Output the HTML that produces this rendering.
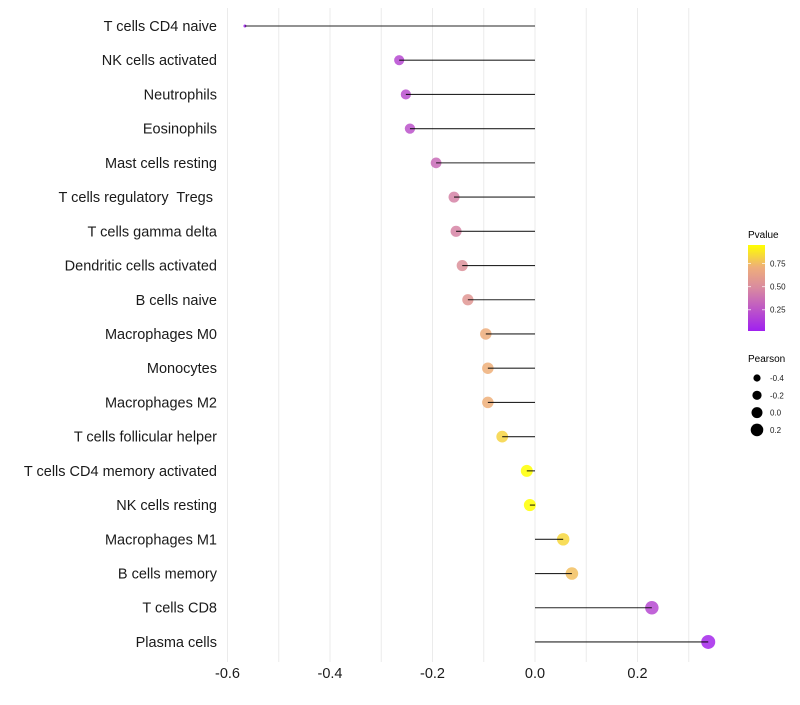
<!DOCTYPE html>
<html><head><meta charset="utf-8"><style>
body{margin:0;background:#fff;font-family:"Liberation Sans",sans-serif}
svg text{font-family:"Liberation Sans",sans-serif}
</style></head><body>
<svg id="chart" width="800" height="700" xmlns="http://www.w3.org/2000/svg">
<defs>
<linearGradient id="pgrad" x1="0" y1="1" x2="0" y2="0">
<stop offset="0" stop-color="#a020f0"/><stop offset="0.5" stop-color="#d98aa0"/><stop offset="0.74" stop-color="#eeae7a"/><stop offset="1" stop-color="#ffff00"/>
</linearGradient>
</defs>
<g id="grid"></g>
<g id="bars"></g>
<g id="ylabels"></g>
<g id="xlabels"></g>
<g>
<text x="748" y="238" font-size="10">Pvalue</text>
<rect x="748" y="245" width="17" height="86" fill="url(#pgrad)"/>
<g id="cbticks"></g>
</g>
<g id="sizeleg">
<text x="748" y="362" font-size="10">Pearson</text>
</g>
</svg>
<script>
const categories=["T cells CD4 naive","NK cells activated","Neutrophils","Eosinophils","Mast cells resting","T cells regulatory  Tregs ","T cells gamma delta","Dendritic cells activated","B cells naive","Macrophages M0","Monocytes","Macrophages M2","T cells follicular helper","T cells CD4 memory activated","NK cells resting","Macrophages M1","B cells memory","T cells CD8","Plasma cells"];
const pearson=[-0.566,-0.265,-0.252,-0.244,-0.193,-0.158,-0.154,-0.142,-0.131,-0.096,-0.092,-0.092,-0.064,-0.016,-0.010,0.055,0.072,0.228,0.338];
const pvalues=[0.02,0.20,0.22,0.24,0.35,0.45,0.46,0.52,0.56,0.70,0.71,0.71,0.82,0.95,0.97,0.83,0.76,0.20,0.05];
const xTicks=[-0.6,-0.4,-0.2,0.0,0.2];
const xTickLabels=["-0.6","-0.4","-0.2","0.0","0.2"];
const cbTicks=[0.25,0.50,0.75];
const sizeLegendValues=[-0.4,-0.2,0.0,0.2];
const sizeLegendLabels=["-0.4","-0.2","0.0","0.2"];

const NS="http://www.w3.org/2000/svg";
const x=v=>535+v*512.5;
const y=i=>26+i*34.22;
const r=v=>1.5+5.5*Math.pow(Math.max(0,(v+0.566)/0.904),0.4);
const cbY=p=>331-(p-0.02)/0.93*86;
const stops=[[0,[160,32,240]],[0.5,[217,138,160]],[0.74,[238,174,122]],[1,[255,255,0]]];
function col(p){const t=Math.max(0,Math.min(1,(p-0.02)/0.93));
 for(let k=1;k<stops.length;k++){if(t<=stops[k][0]){const a=stops[k-1],b=stops[k];const s=(t-a[0])/(b[0]-a[0]);
  return `rgb(${a[1].map((v,j)=>Math.round(v+(b[1][j]-v)*s)).join(",")})`}}
 return 'rgb(255,255,0)'}
function mk(tag,attrs,parent){const e=document.createElementNS(NS,tag);for(const k in attrs)e.setAttribute(k,attrs[k]);parent.appendChild(e);return e}
const grid=document.getElementById('grid');
for(let v=-0.7;v<=0.36;v+=0.1){
 const gx=x(Math.round(v*10)/10);if(gx<212)continue;
 const l=mk('line',{x1:gx,x2:gx,y1:8,y2:662,stroke:'#ebebeb','stroke-width':1},grid);
 
 
}
const bars=document.getElementById('bars'),yl=document.getElementById('ylabels'),xl=document.getElementById('xlabels');
categories.forEach((c,i)=>{
 const cy=y(i);
 const d=mk('circle',{cx:x(pearson[i]),cy:cy,r:r(pearson[i]),fill:col(pvalues[i]),'fill-opacity':0.85},bars);
 
 
 const l=mk('line',{x1:x(0),x2:x(pearson[i]),y1:cy,y2:cy,stroke:'#000','stroke-width':1.1,'stroke-opacity':0.85},bars);
 
 
 const t=mk('text',{x:217,y:cy+5,'font-size':14.5,'text-anchor':'end',fill:'#1a1a1a'},yl);
 t.textContent=c;t.setAttribute('xml:space','preserve');t.style.whiteSpace='pre';
 
 
});
xTicks.forEach((v,i)=>{
 const t=mk('text',{x:x(v),y:678,'font-size':14.5,'text-anchor':'middle',fill:'#1a1a1a'},xl);
 t.textContent=xTickLabels[i];
 
 
});
const cbt=document.getElementById('cbticks');
cbTicks.forEach(p=>{
 const yy=cbY(p);
 const a=mk('line',{x1:748,x2:751,y1:yy,y2:yy,stroke:'#fff','stroke-opacity':0.7},cbt);
 
 
 const b=mk('line',{x1:762,x2:765,y1:yy,y2:yy,stroke:'#fff','stroke-opacity':0.7},cbt);
 
 
 const t=mk('text',{x:770,y:yy+3,'font-size':8,fill:'#1a1a1a'},cbt);
 t.textContent=p.toFixed(2);
 
 
});
const sl=document.getElementById('sizeleg');
const legR=[3.6,4.6,5.5,6.3];
sizeLegendValues.forEach((v,i)=>{
 const yy=378+i*17.3;
 const c=mk('circle',{cx:757,cy:yy,r:legR[i],fill:'#000'},sl);
 
 
 const t=mk('text',{x:770,y:yy+3,'font-size':8,fill:'#1a1a1a'},sl);
 t.textContent=sizeLegendLabels[i];
 
 
});
</script>
</body></html>
